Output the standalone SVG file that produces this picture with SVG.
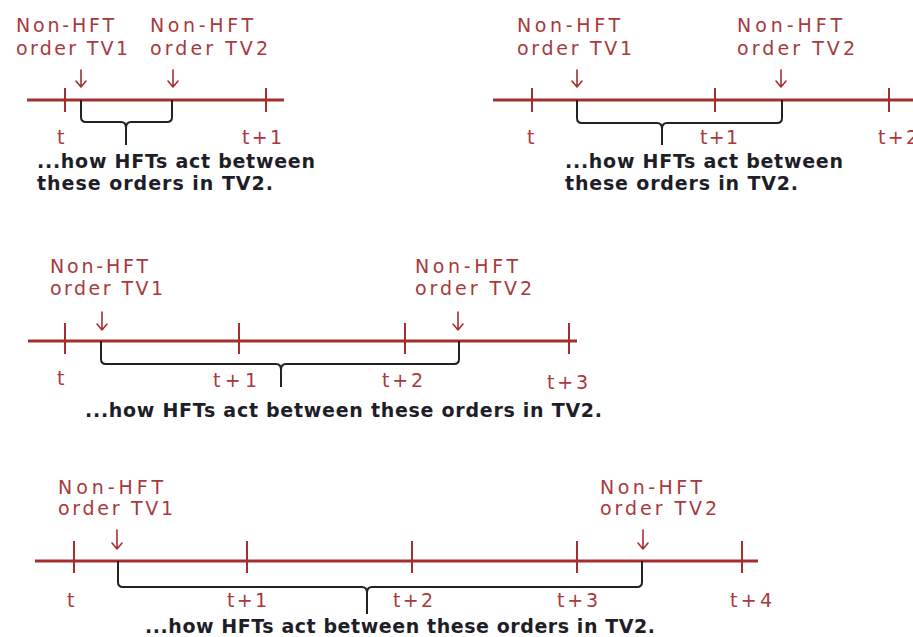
<svg xmlns="http://www.w3.org/2000/svg" width="913" height="637" viewBox="0 0 913 637">
<style>
.bg{fill:#ffffff}
.axis{stroke:#a3302f;stroke-width:3;fill:none}
.tick{stroke:#a3302f;stroke-width:2;fill:none}
.arr{stroke:#a3302f;stroke-width:1.6;fill:none;stroke-linecap:round;stroke-linejoin:round}
.brace{stroke:#222;stroke-width:2;fill:none;stroke-linejoin:round}
.lbl{font-family:"DejaVu Sans","Open Sans",sans-serif;font-size:19px;fill:#a8393c}
.cap{font-family:"DejaVu Sans","Open Sans",sans-serif;font-size:19px;font-weight:bold;fill:#1e1e28}
</style>
<rect class="bg" x="0" y="0" width="913" height="637"/>

<g id="panel1">
<line class="axis" x1="27" y1="100" x2="284" y2="100"/>
<line class="tick" x1="65" y1="88" x2="65" y2="112"/>
<line class="tick" x1="266" y1="88" x2="266" y2="112"/>
<path class="arr" d="M81,70 V87 M76,81 L81,87 L86,81"/>
<path class="arr" d="M173,70 V87 M168,81 L173,87 L178,81"/>
<path class="brace" d="M81,100 V117 Q81,122 86,122 H121 Q126,122 126,128 V145 M126,128 Q126,122 131,122 H167 Q172,122 172,117 V100"/>
<text class="lbl" x="16" y="32" textLength="98" lengthAdjust="spacing">Non-HFT</text>
<text class="lbl" x="16" y="55" textLength="112" lengthAdjust="spacing">order TV1</text>
<text class="lbl" x="150" y="32" textLength="103" lengthAdjust="spacing">Non-HFT</text>
<text class="lbl" x="150" y="55" textLength="118" lengthAdjust="spacing">order TV2</text>
<text class="lbl" x="57" y="144">t</text>
<text class="lbl" x="242" y="144" textLength="40" lengthAdjust="spacing">t+1</text>
<text class="cap" x="37" y="168" textLength="278" lengthAdjust="spacing">...how HFTs act between</text>
<text class="cap" x="37" y="190" textLength="236" lengthAdjust="spacing">these orders in TV2.</text>
</g>

<g id="panel2">
<line class="axis" x1="493" y1="100" x2="913" y2="100"/>
<line class="tick" x1="532" y1="88" x2="532" y2="112"/>
<line class="tick" x1="715" y1="88" x2="715" y2="112"/>
<line class="tick" x1="889" y1="88" x2="889" y2="112"/>
<path class="arr" d="M577,70 V87 M572,81 L577,87 L582,81"/>
<path class="arr" d="M781,70 V87 M776,81 L781,87 L786,81"/>
<path class="brace" d="M577,100 V118 Q577,123 582,123 H657 Q662,123 662,129 V145 M662,129 Q662,123 667,123 H777 Q782,123 782,118 V100"/>
<text class="lbl" x="517" y="32" textLength="103" lengthAdjust="spacing">Non-HFT</text>
<text class="lbl" x="517" y="55" textLength="115" lengthAdjust="spacing">order TV1</text>
<text class="lbl" x="737" y="32" textLength="105" lengthAdjust="spacing">Non-HFT</text>
<text class="lbl" x="737" y="55" textLength="118" lengthAdjust="spacing">order TV2</text>
<text class="lbl" x="527" y="144">t</text>
<text class="lbl" x="700" y="144" textLength="38" lengthAdjust="spacing">t+1</text>
<text class="lbl" x="878" y="144" textLength="40" lengthAdjust="spacing">t+2</text>
<text class="cap" x="565" y="168" textLength="278" lengthAdjust="spacing">...how HFTs act between</text>
<text class="cap" x="565" y="190" textLength="233" lengthAdjust="spacing">these orders in TV2.</text>
</g>

<g id="panel3">
<line class="axis" x1="28" y1="341" x2="577" y2="341"/>
<line class="tick" x1="65" y1="323" x2="65" y2="354"/>
<line class="tick" x1="239" y1="323" x2="239" y2="354"/>
<line class="tick" x1="405" y1="323" x2="405" y2="354"/>
<line class="tick" x1="569" y1="323" x2="569" y2="354"/>
<path class="arr" d="M102,312 V330 M97,324 L102,330 L107,324"/>
<path class="arr" d="M458,312 V330 M453,324 L458,330 L463,324"/>
<path class="brace" d="M101,341 V359 Q101,364 106,364 H276 Q281,364 281,370 V387 M281,370 Q281,364 286,364 H454 Q459,364 459,359 V341"/>
<text class="lbl" x="50" y="273" textLength="98" lengthAdjust="spacing">Non-HFT</text>
<text class="lbl" x="50" y="295" textLength="113" lengthAdjust="spacing">order TV1</text>
<text class="lbl" x="415" y="273" textLength="103" lengthAdjust="spacing">Non-HFT</text>
<text class="lbl" x="415" y="295" textLength="117" lengthAdjust="spacing">order TV2</text>
<text class="lbl" x="57" y="385">t</text>
<text class="lbl" x="213" y="387" textLength="44" lengthAdjust="spacing">t+1</text>
<text class="lbl" x="382" y="387" textLength="41" lengthAdjust="spacing">t+2</text>
<text class="lbl" x="547" y="389" textLength="41" lengthAdjust="spacing">t+3</text>
<text class="cap" x="85" y="417" textLength="517" lengthAdjust="spacing">...how HFTs act between these orders in TV2.</text>
</g>

<g id="panel4">
<line class="axis" x1="35" y1="561" x2="758" y2="561"/>
<line class="tick" x1="74" y1="541" x2="74" y2="573"/>
<line class="tick" x1="247" y1="541" x2="247" y2="573"/>
<line class="tick" x1="412" y1="541" x2="412" y2="573"/>
<line class="tick" x1="577" y1="541" x2="577" y2="573"/>
<line class="tick" x1="742" y1="541" x2="742" y2="573"/>
<path class="arr" d="M117,530 V549 M112,543 L117,549 L122,543"/>
<path class="arr" d="M643,530 V549 M638,543 L643,549 L648,543"/>
<path class="brace" d="M118,561 V582 Q118,587 123,587 H362 Q367,587 367,593 V614 M367,593 Q367,587 372,587 H637 Q642,587 642,582 V561"/>
<text class="lbl" x="58" y="494" textLength="105" lengthAdjust="spacing">Non-HFT</text>
<text class="lbl" x="58" y="515" textLength="115" lengthAdjust="spacing">order TV1</text>
<text class="lbl" x="600" y="494" textLength="102" lengthAdjust="spacing">Non-HFT</text>
<text class="lbl" x="600" y="515" textLength="117" lengthAdjust="spacing">order TV2</text>
<text class="lbl" x="67" y="607">t</text>
<text class="lbl" x="227" y="607" textLength="40" lengthAdjust="spacing">t+1</text>
<text class="lbl" x="393" y="607" textLength="40" lengthAdjust="spacing">t+2</text>
<text class="lbl" x="557" y="607" textLength="41" lengthAdjust="spacing">t+3</text>
<text class="lbl" x="730" y="607" textLength="42" lengthAdjust="spacing">t+4</text>
<text class="cap" x="145" y="633" textLength="510" lengthAdjust="spacing">...how HFTs act between these orders in TV2.</text>
</g>
</svg>
